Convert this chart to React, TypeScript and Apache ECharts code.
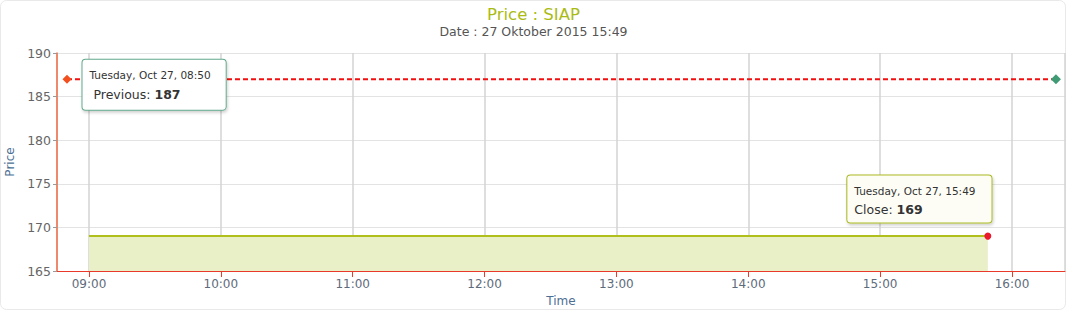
import React, { useEffect, useRef } from "react";
import * as echarts from "echarts";

const chartTitle = "Price : SIAP";
const chartSubtitle = "Date : 27 Oktober 2015 15:49";
const dayLabel = "Tuesday, Oct 27";
const yTicks = [165, 170, 175, 180, 185, 190];

// times as [hour, minute]
const closeTimes: [number, number][] = [[9, 0], [15, 49]];
const closeValues = [169, 169];
const previousTimes: [number, number][] = [[8, 50], [16, 20]];
const previousValues = [187, 187];
const axisStart: [number, number, number] = [8, 45, 27];
const axisEnd: [number, number, number] = [16, 24, 7];

const t = (h: number, m: number, s = 0) => new Date(2015, 9, 27, h, m, s).getTime();
const pad = (n: number) => (n < 10 ? "0" + n : "" + n);
const hm = (p: [number, number]) => pad(p[0]) + ":" + pad(p[1]);

export default function App() {
  const ref = useRef<HTMLDivElement>(null);
  useEffect(() => {
    if (!ref.current) return;
    const chart = echarts.init(ref.current, undefined, { renderer: "svg" });
    const font = "'DejaVu Sans', sans-serif";

    const closeLast = closeTimes.length - 1;

    const previousData = previousTimes.map((p, i) => {
      const d: any = {
        value: [t(p[0], p[1]), previousValues[i]],
        symbol: "diamond",
        symbolSize: i === 0 ? 9 : 10,
        itemStyle: { color: i === 0 ? "#f2501e" : "#3f9b74" },
      };
      if (i === 0) {
        d.label = {
          show: true,
          position: [20, -15],
          align: "left",
          verticalAlign: "top",
          formatter:
            "{a|" + dayLabel + ", " + hm(p) + "}\n{b| Previous: }{c|" + previousValues[i] + "}",
          backgroundColor: "#ffffff",
          borderColor: "#62a98c",
          borderWidth: 1,
          borderRadius: 3,
          padding: [6, 15, 5, 7],
          shadowColor: "rgba(0,0,0,0.18)",
          shadowBlur: 3,
          shadowOffsetX: 1,
          shadowOffsetY: 2,
          rich: {
            a: { fontSize: 10.5, color: "#333", fontFamily: font, lineHeight: 19 },
            b: { fontSize: 12.5, color: "#333", fontFamily: font, lineHeight: 20 },
            c: { fontSize: 12.5, color: "#333", fontWeight: "bold", fontFamily: font, lineHeight: 20 },
          },
        };
      }
      return d;
    });

    const closeData = closeTimes.map((p, i) => {
      const d: any = {
        value: [t(p[0], p[1]), closeValues[i]],
        symbol: i === closeLast ? "circle" : "none",
        symbolSize: 7,
        itemStyle: { color: "#ea1a2c" },
      };
      if (i === closeLast) {
        d.label = {
          show: true,
          position: [-137, -57],
          align: "left",
          verticalAlign: "top",
          formatter: "{a|" + dayLabel + ", " + hm(p) + "}\n{b|Close: }{c|" + closeValues[i] + "}",
          backgroundColor: "#fdfdf6",
          borderColor: "#aab820",
          borderWidth: 1,
          borderRadius: 3,
          padding: [6, 16, 4, 7],
          shadowColor: "rgba(0,0,0,0.18)",
          shadowBlur: 3,
          shadowOffsetX: 1,
          shadowOffsetY: 2,
          rich: {
            a: { fontSize: 10.5, color: "#333", fontFamily: font, lineHeight: 18 },
            b: { fontSize: 12.5, color: "#333", fontFamily: font, lineHeight: 19 },
            c: { fontSize: 12.5, color: "#333", fontWeight: "bold", fontFamily: font, lineHeight: 19 },
          },
        };
      }
      return d;
    });

    chart.setOption({
      animation: false,
      textStyle: { fontFamily: font },
      title: {
        text: chartTitle,
        subtext: chartSubtitle,
        left: "center",
        top: 4,
        padding: 0,
        itemGap: 0,
        textStyle: { color: "#aabb14", fontSize: 16.5, fontWeight: "normal", fontFamily: font, lineHeight: 20 },
        subtextStyle: { color: "#555", fontSize: 12.5, fontFamily: font, lineHeight: 14 },
      },
      graphic: [
        {
          type: "rect",
          silent: true,
          z: -10,
          shape: { x: 0.5, y: 0.5, width: 1065, height: 309, r: 6 },
          style: { fill: "none", stroke: "#e9e9e9", lineWidth: 1 },
        },
      ],
      grid: { left: 57, right: 2, top: 53, bottom: 40, containLabel: false, outerBoundsMode: "none" },
      xAxis: {
        type: "time",
        min: t(...axisStart),
        max: t(...axisEnd),
        minInterval: 3600 * 1000,
        maxInterval: 3600 * 1000,
        name: "Time",
        nameLocation: "middle",
        nameGap: 24,
        nameTextStyle: { color: "#4d6f94", fontSize: 12 },
        axisLine: { show: true, lineStyle: { color: "#e8392a", width: 1 } },
        axisTick: { show: true, length: 6, lineStyle: { color: "#e8392a" } },
        axisLabel: {
          color: "#5e6b7b",
          fontSize: 12,
          margin: 7,
          formatter: "{HH}:{mm}",
          showMinLabel: false,
          showMaxLabel: false,
          hideOverlap: false,
        },
        splitLine: { show: true, lineStyle: { color: "#d3d3d3", width: 1.5 } },
        minorTick: { show: false },
      },
      yAxis: {
        type: "value",
        min: yTicks[0],
        max: yTicks[yTicks.length - 1],
        interval: yTicks[1] - yTicks[0],
        name: "Price",
        nameLocation: "middle",
        nameGap: 40,
        nameRotate: 90,
        nameTextStyle: { color: "#4d6f94", fontSize: 12 },
        axisLine: { show: true, lineStyle: { color: "#f36d45", width: 1.5 } },
        axisTick: { show: true, length: 4, lineStyle: { color: "#999" } },
        axisLabel: { color: "#666", fontSize: 12.5, margin: 6 },
        splitLine: { show: true, lineStyle: { color: "#e3e3e3", width: 1 } },
      },
      series: [
        {
          name: "Close",
          type: "line",
          data: closeData,
          showSymbol: true,
          lineStyle: { color: "#b1bf1c", width: 2 },
          itemStyle: { color: "#ea1a2c" },
          areaStyle: { color: "#e9efc7", opacity: 1 },
          z: 2,
        },
        {
          name: "Previous",
          type: "line",
          data: previousData,
          showSymbol: true,
          lineStyle: { color: "#f01010", width: 2, type: [5, 3] },
          z: 3,
        },
      ],
    });
    return () => chart.dispose();
  }, []);
  return (
    <div
      ref={ref}
      style={{ position: "fixed", left: 0, top: 0, width: 1067, height: 311, background: "#fff" }}
    />
  );
}
